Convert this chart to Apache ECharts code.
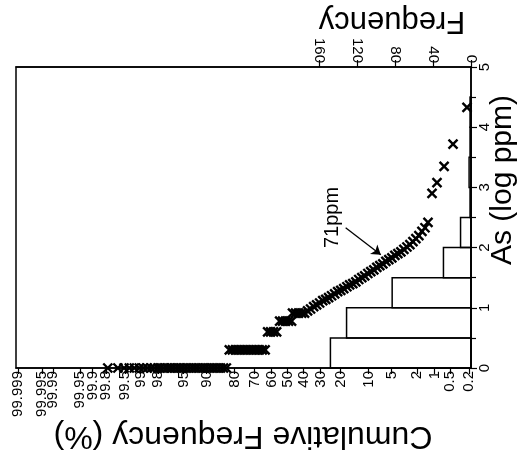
<!DOCTYPE html>
<html><head><meta charset="utf-8">
<script src="https://cdn.jsdelivr.net/npm/echarts@6/dist/echarts.min.js"></script>
<style>html,body{margin:0;padding:0;background:#fff}#c{width:523px;height:454px}</style>
</head><body><div id="c"></div>
<script>
// ---- tick labels ----
const probTicks = [99.999, 99.995, 99.99, 99.95, 99.9, 99.8, 99.5, 99, 98, 95, 90, 80, 70, 60, 50, 40, 30, 20, 10, 5, 2, 1, 0.5, 0.2];
const asTicks = [0, 1, 2, 3, 4, 5];
const freqTicks = [0, 40, 80, 120, 160];
const probRange = [0.184, 99.99915];   // cumulative frequency (%) at right / left edge

// ---- histogram (As log ppm bins, counts) ----
const binLow   = [0, 0.5, 1, 1.5, 2, 2.5, 3, 3.5, 4, 4.5];
const binHigh  = [0.5, 1, 1.5, 2, 2.5, 3, 3.5, 4, 4.5, 5];
const binCount = [148, 131, 83, 29, 11, 1, 2, 1, 1, 0];

// ---- cumulative frequency samples (%), grouped by As level ----
const asLevel0 = 0.0;
const cumP0 = [99.78, 99.64, 99.52, 99.39, 99.24, 99.06, 98.89, 98.69, 98.46, 98.26, 98.0, 97.8, 97.5, 97.2, 96.9, 96.6, 96.2, 95.8, 95.4, 94.9, 94.4, 93.8, 93.2, 92.6, 91.9, 91.1, 90.4, 89.5, 88.6, 87.7, 86.7, 85.6, 84.5, 83.4];
const asLevel1 = 0.30;
const cumP1 = [82.2, 80.9, 79.6, 78.2, 76.8, 75.3, 73.8, 72.2, 70.6, 69.0, 67.3, 65.6, 63.9];
const asLevel2 = 0.60;
const cumP2 = [62.4, 60.6, 58.8, 56.9];
const asLevel3 = 0.78;
const cumP3 = [55.0, 53.2, 51.3, 49.4, 47.5];
const asLevel4 = 0.91;
const cumP4 = [46.9, 45.0, 43.1, 41.2, 39.4];
// upper continuous part: cumulative % and As (log ppm)
const cumP5 = [37.6, 35.8, 34.0, 32.3, 30.6, 28.9, 27.3, 25.8, 24.3, 22.8, 21.4, 20.0, 18.7, 17.4, 16.3, 15.1, 14.0, 13.0, 12.0, 11.1, 10.2, 9.39, 8.61, 7.89, 7.21, 6.58, 5.99, 5.45, 4.94, 4.47, 4.04, 3.64, 3.28, 2.94, 2.64, 2.36, 2.11, 1.88, 1.67, 1.48, 1.31, 1.11, 0.90, 0.66, 0.44, 0.225];
const as5   = [0.95, 0.98, 1.02, 1.05, 1.08, 1.12, 1.14, 1.17, 1.20, 1.23, 1.27, 1.29, 1.32, 1.35, 1.38, 1.40, 1.43, 1.47, 1.50, 1.53, 1.57, 1.60, 1.63, 1.67, 1.70, 1.73, 1.77, 1.80, 1.83, 1.87, 1.90, 1.93, 1.97, 2.01, 2.05, 2.10, 2.15, 2.20, 2.27, 2.33, 2.42, 2.90, 3.08, 3.35, 3.72, 4.33];

// ---- annotation ----
const annoText = '71ppm';
const annoLabelAt = [23.8, 2.5];
const annoArrowFrom = [17.9, 2.33];
const annoArrowTo = [7.0, 1.88];

// inverse normal CDF (probability-paper scale)
function probit(pct) {
  const p = pct / 100;
  const a=[-3.969683028665376e+01,2.209460984245205e+02,-2.759285104469687e+02,1.383577518672690e+02,-3.066479806614716e+01,2.506628277459239e+00];
  const b=[-5.447609879822406e+01,1.615858368580409e+02,-1.556989798598866e+02,6.680131188771972e+01,-1.328068155288572e+01];
  const c=[-7.784894002430293e-03,-3.223964580411365e-01,-2.400758277161838e+00,-2.549732539343734e+00,4.374664141464968e+00,2.938163982698783e+00];
  const d=[7.784695709041462e-03,3.224671290700398e-01,2.445134137142996e+00,3.754408661907416e+00];
  const pl = 0.02425, ph = 1 - pl;
  let q, r;
  if (p < pl) { q = Math.sqrt(-2*Math.log(p)); return (((((c[0]*q+c[1])*q+c[2])*q+c[3])*q+c[4])*q+c[5])/((((d[0]*q+d[1])*q+d[2])*q+d[3])*q+1); }
  if (p <= ph) { q = p - 0.5; r = q*q; return (((((a[0]*r+a[1])*r+a[2])*r+a[3])*r+a[4])*r+a[5])*q/(((((b[0]*r+b[1])*r+b[2])*r+b[3])*r+b[4])*r+1); }
  q = Math.sqrt(-2*Math.log(1-p));
  return -(((((c[0]*q+c[1])*q+c[2])*q+c[3])*q+c[4])*q+c[5])/((((d[0]*q+d[1])*q+d[2])*q+d[3])*q+1);
}

const points = [];
[[cumP0, asLevel0], [cumP1, asLevel1], [cumP2, asLevel2], [cumP3, asLevel3], [cumP4, asLevel4]].forEach(([arr, lv]) => {
  arr.forEach(p => points.push([probit(p), lv]));
});
cumP5.forEach((p, i) => points.push([probit(p), as5[i]]));

const probTickZ = probTicks.map(probit);
const histData = binLow.map((b, i) => [b, binHigh[i], binCount[i]]);

const FONT = '"Liberation Sans", Arial, sans-serif';
const X_SYMBOL = 'path://M0,0L10,10M10,0L0,10';

const chart = echarts.init(document.getElementById('c'), null, { renderer: 'canvas' });
chart.setOption({
  animation: false,
  backgroundColor: '#fff',
  textStyle: { fontFamily: FONT },
  grid: { left: 16, right: 52, top: 67, bottom: 86, show: true, borderColor: '#000', borderWidth: 1.5, backgroundColor: 'transparent' },
  xAxis: [
    {
      type: 'value', position: 'bottom', inverse: true,
      min: probit(probRange[0]), max: probit(probRange[1]),
      axisLine: { show: true, onZero: false, lineStyle: { color: '#000', width: 1.5 } },
      axisTick: { show: true, customValues: probTickZ, length: 6, lineStyle: { color: '#000', width: 1.2 } },
      axisLabel: {
        customValues: probTickZ, rotate: 90, fontSize: 15, color: '#000', margin: 3, fontFamily: FONT,
        formatter: v => { let best = 0; probTickZ.forEach((z, i) => { if (Math.abs(z - v) < Math.abs(probTickZ[best] - v)) best = i; }); return String(probTicks[best]); }
      },
      splitLine: { show: false }
    },
    {
      type: 'value', position: 'top', inverse: true, min: 0, max: 479,
      axisLine: { show: true, onZero: false, lineStyle: { color: '#000', width: 1.5 } },
      axisTick: { show: true, customValues: freqTicks, length: 7, lineStyle: { color: '#000', width: 1.2 } },
      axisLabel: { customValues: freqTicks, rotate: 90, fontSize: 15, color: '#000', margin: 4, fontFamily: FONT },
      splitLine: { show: false }
    }
  ],
  yAxis: [{
    type: 'value', position: 'right', min: asTicks[0], max: asTicks[asTicks.length - 1], interval: 1,
    axisLine: { show: true, onZero: false, lineStyle: { color: '#000', width: 1.5 } },
    axisTick: { show: true, length: 6, lineStyle: { color: '#000', width: 1.2 } },
    minorTick: { show: true, splitNumber: 2, length: 5, lineStyle: { color: '#000', width: 1.2 } },
    axisLabel: { rotate: 90, fontSize: 15, color: '#000', margin: 6, fontFamily: FONT },
    splitLine: { show: false }
  }],
  series: [
    {
      type: 'custom', xAxisIndex: 1, yAxisIndex: 0, encode: { x: 2, y: [0, 1] }, data: histData, clip: false,
      renderItem: (params, api) => {
        const lo = api.value(0), hi = api.value(1), n = api.value(2);
        if (!n) return null;
        const p0 = api.coord([0, lo]), p1 = api.coord([n, hi]);
        return { type: 'rect', shape: { x: p1[0], y: p1[1], width: p0[0] - p1[0], height: p0[1] - p1[1] },
                 style: { fill: 'none', stroke: '#000', lineWidth: 1.5 } };
      }
    },
    {
      type: 'scatter', xAxisIndex: 0, yAxisIndex: 0, data: points, clip: false,
      symbol: X_SYMBOL, symbolSize: 9,
      itemStyle: { color: 'rgba(0,0,0,0)', borderColor: '#000', borderWidth: 2.4, opacity: 1 },
      markLine: {
        silent: true, symbol: ['none', 'arrow'], symbolSize: 9,
        lineStyle: { color: '#000', width: 1.3, type: 'solid' }, label: { show: false },
        data: [[{ coord: [probit(annoArrowFrom[0]), annoArrowFrom[1]] }, { coord: [probit(annoArrowTo[0]), annoArrowTo[1]] }]]
      },
      markPoint: {
        silent: true, symbol: 'circle', symbolSize: 1, itemStyle: { color: 'rgba(0,0,0,0)' },
        label: { show: true, position: 'inside', formatter: annoText, rotate: 90, fontSize: 20, color: '#000', fontFamily: FONT },
        data: [{ coord: [probit(annoLabelAt[0]), annoLabelAt[1]] }]
      }
    }
  ],
  graphic: [
    { type: 'text', x: 243, y: 436, rotation: Math.PI, style: { text: 'Cumulative Frequency (%)', font: '32px ' + FONT, fill: '#000', textAlign: 'center', textVerticalAlign: 'middle' } },
    { type: 'text', x: 392, y: 21, rotation: Math.PI, style: { text: 'Frequency', font: '31px ' + FONT, fill: '#000', textAlign: 'center', textVerticalAlign: 'middle' } },
    { type: 'text', x: 503, y: 180, rotation: Math.PI / 2, style: { text: 'As (log ppm)', font: '30px ' + FONT, fill: '#000', textAlign: 'center', textVerticalAlign: 'middle' } }
  ]
});
</script></body></html>
